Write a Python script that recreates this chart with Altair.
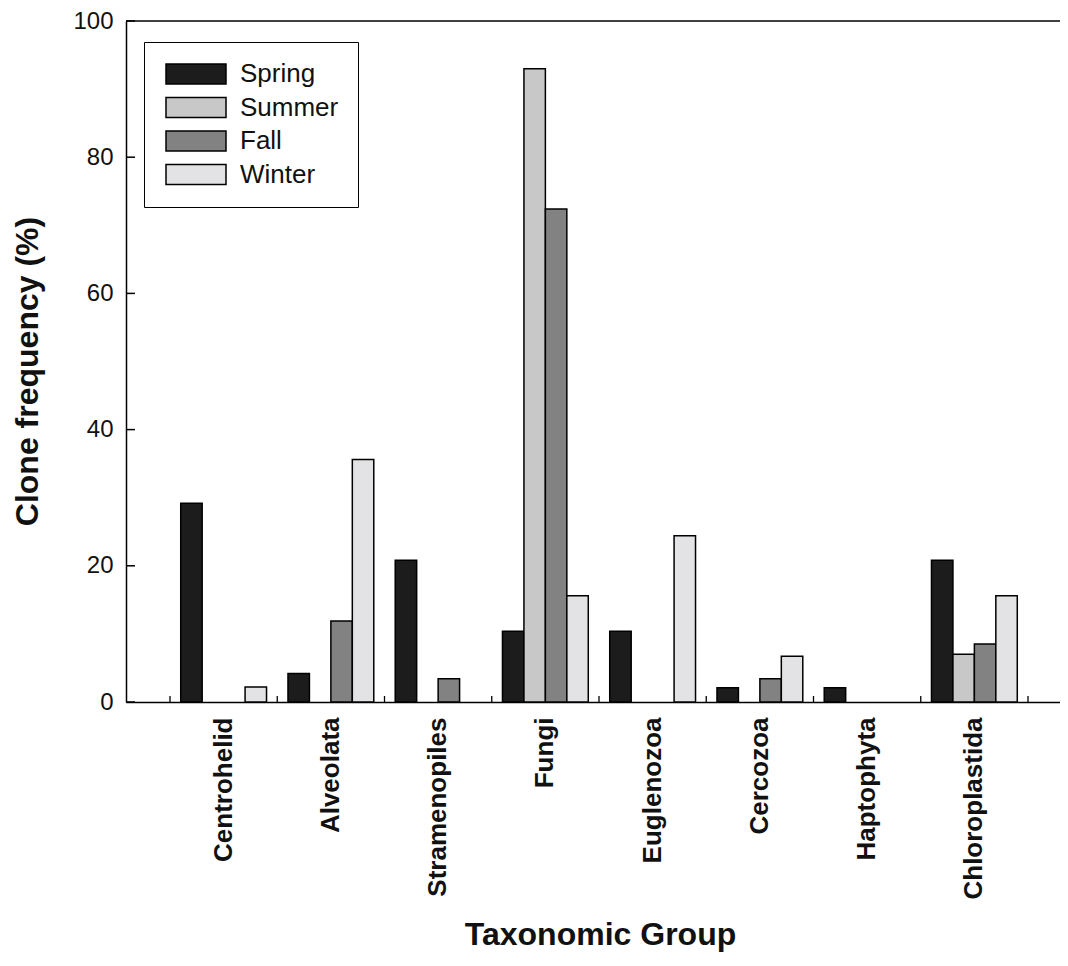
import altair as alt
import pandas as pd

categories = ["Centrohelid", "Alveolata", "Stramenopiles", "Fungi",
              "Euglenozoa", "Cercozoa", "Haptophyta", "Chloroplastida"]
seasons = ["Spring", "Summer", "Fall", "Winter"]
spring = [29.2, 4.2, 20.8, 10.4, 10.4, 2.1, 2.1, 20.8]
summer = [0, 0, 0, 93.0, 0, 0, 0, 7.0]
fall = [0, 11.9, 3.4, 72.4, 0, 3.4, 0, 8.5]
winter = [2.2, 35.6, 0, 15.6, 24.4, 6.7, 0, 15.6]
colors = ["#1c1c1c", "#c8c8c8", "#828282", "#e3e3e5"]
y_tick_values = [0, 20, 40, 60, 80, 100]
top_value = [100]

rows = []
for s, vals in zip(seasons, [spring, summer, fall, winter]):
    for c, v in zip(categories, vals):
        rows.append({"group": c, "season": s, "value": v})
df = pd.DataFrame(rows)

W, H = 934, 681
FONT = "Liberation Sans"
INK = "#111111"

xscale = alt.Scale(domain=categories, paddingInner=0, paddingOuter=0.3543, align=0.579)
yscale = alt.Scale(domain=[0, 100], nice=False, zero=True)

x_axis = alt.Axis(labelAngle=-90, labelFont=FONT, labelFontSize=26,
                  labelFontWeight="bold", labelColor=INK, labelPadding=15,
                  labelLimit=400, ticks=False, tickSize=0,
                  domainColor="black", domainWidth=1.5,
                  title="Taxonomic Group", titleFont=FONT, titleFontSize=32,
                  titleFontWeight="bold", titleColor=INK,
                  titleX=474, titleY=242, titleAlign="center",
                  titleBaseline="alphabetic")
y_axis = alt.Axis(values=y_tick_values, labelFont=FONT, labelFontSize=24,
                  labelColor=INK, labelPadding=13, labelFlush=False,
                  ticks=False, tickSize=0, grid=False,
                  domainColor="black", domainWidth=1.5,
                  title="Clone frequency (%)", titleFont=FONT, titleFontSize=32,
                  titleFontWeight="bold", titleColor=INK,
                  titleX=-89, titleY=350, titleAlign="center",
                  titleBaseline="alphabetic")

bars = alt.Chart(df).transform_filter("datum.value > 0").mark_bar(
    stroke="black", strokeWidth=1.5, strokeJoin="miter"
).encode(
    x=alt.X("group:N", scale=xscale, sort=categories, axis=x_axis),
    xOffset=alt.XOffset("season:N", sort=seasons,
                        scale=alt.Scale(domain=seasons, paddingInner=0, paddingOuter=0.5)),
    y=alt.Y("value:Q", scale=yscale, axis=y_axis),
    color=alt.Color("season:N", scale=alt.Scale(domain=seasons, range=colors),
                    legend=alt.Legend(orient="none", legendX=18, legendY=21, title=None,
                                      symbolType="M-1,-1H5V1H-1Z", symbolSize=400,
                                      symbolStrokeColor="black", symbolStrokeWidth=1.5,
                                      symbolOpacity=1, labelFont=FONT, labelFontSize=26,
                                      labelColor=INK, labelOffset=51, rowPadding=7.5,
                                      padding=19, strokeColor="black", fillColor="white")),
)

top_line = alt.Chart(pd.DataFrame({"value": top_value})).mark_rule(
    color="black", strokeWidth=1.5
).encode(y=alt.Y("value:Q", scale=yscale, axis=y_axis))

y_ticks = alt.Chart(pd.DataFrame({"value": y_tick_values})).mark_rule(
    color="black", strokeWidth=1.5
).encode(y=alt.Y("value:Q", scale=yscale, axis=y_axis), x=alt.value(0), x2=alt.value(9))

x_ticks = alt.Chart(pd.DataFrame({"group": categories})).mark_rule(
    color="black", strokeWidth=1.3
).encode(x=alt.X("group:N", scale=xscale, sort=categories, bandPosition=0, axis=x_axis),
         y=alt.value(H), y2=alt.value(H - 6))

x_tick_end = alt.Chart(pd.DataFrame({"group": categories[-1:]})).mark_rule(
    color="black", strokeWidth=1.3
).encode(x=alt.X("group:N", scale=xscale, sort=categories, bandPosition=1, axis=x_axis),
         y=alt.value(H), y2=alt.value(H - 6))

chart = alt.layer(bars, top_line, y_ticks, x_ticks, x_tick_end).properties(
    width=W, height=H,
    autosize=alt.AutoSizeParams(type="none"),
    padding={"left": 118, "top": 13, "right": 0, "bottom": 252},
    background="white",
).configure_view(strokeWidth=0)

chart.save("out.html", embed_options={"renderer": "svg", "actions": False})
